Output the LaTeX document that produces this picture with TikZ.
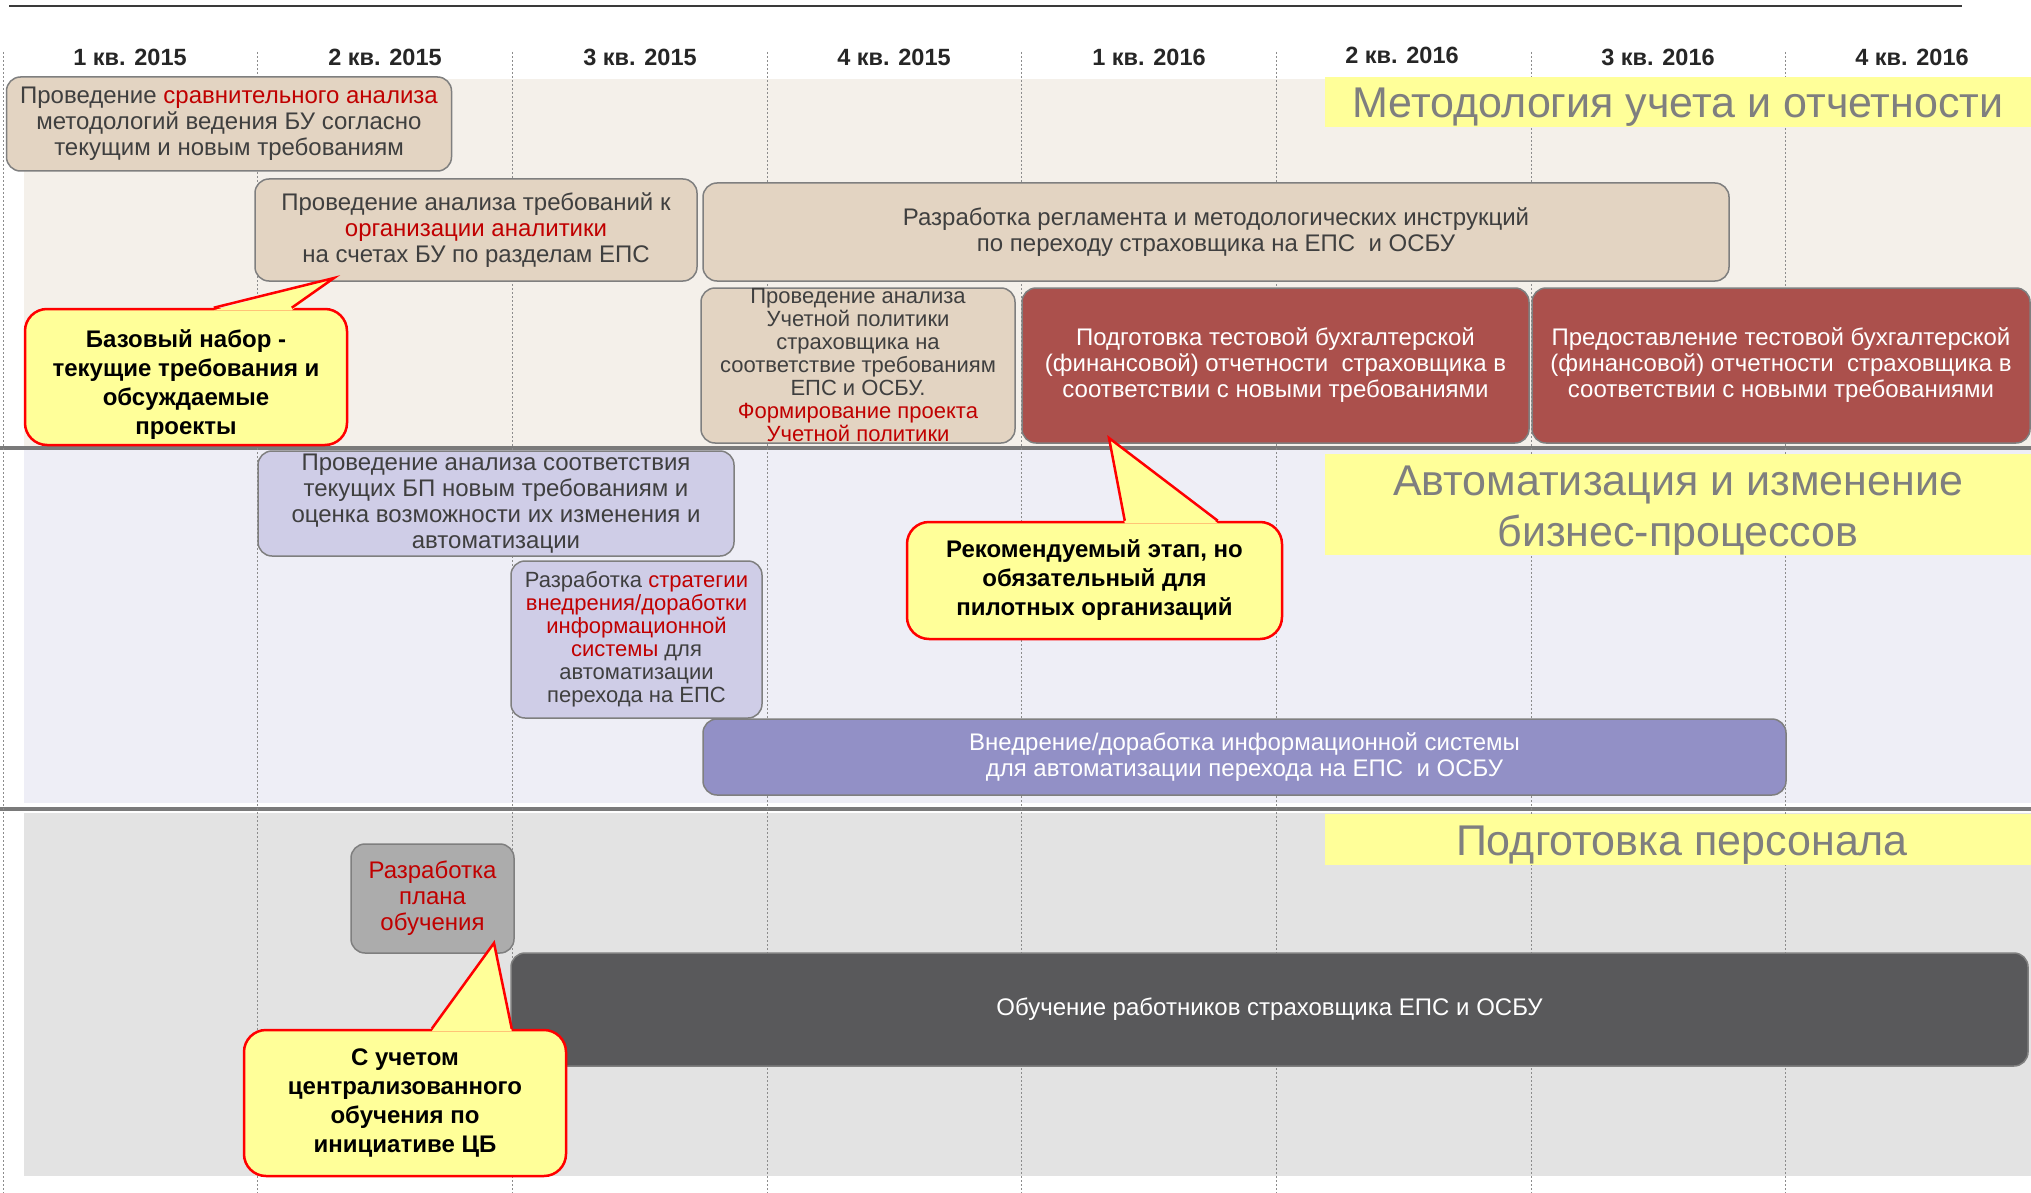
\documentclass[tikz,border=0pt]{standalone}
\usepackage{fontspec}
\setmainfont{Liberation Sans}
\usetikzlibrary{calc}
\definecolor{bgA}{HTML}{F4F0EA}
\definecolor{bgB}{HTML}{EEEEF6}
\definecolor{bgC}{HTML}{E3E3E3}
\definecolor{sepgray}{HTML}{7A7A7A}
\definecolor{gridgray}{HTML}{8C8C8C}
\definecolor{bordergray}{HTML}{7F7F7F}
\definecolor{txtgray}{HTML}{3F3F3F}
\definecolor{titlegray}{HTML}{7F7F7F}
\definecolor{qtext}{HTML}{262626}
\definecolor{cyellow}{HTML}{FFFF99}
\definecolor{dred}{HTML}{C00000}
\definecolor{beigebox}{HTML}{E3D4C2}
\definecolor{redbox}{HTML}{AB504C}
\definecolor{lavbox}{HTML}{CFCDE7}
\definecolor{purpbox}{HTML}{9290C6}
\definecolor{graybox}{HTML}{ACACAC}
\definecolor{darkbox}{HTML}{59595B}
\definecolor{topline}{HTML}{3A3A3A}
\newcommand{\rd}[1]{\textcolor{dred}{#1}}
\begin{document}
\begin{tikzpicture}[x=1pt,y=-1pt,
  task/.style={draw=bordergray, line width=1.5pt, rounded corners=14pt, align=center, inner sep=0pt, font=\fontsize{24}{26}\selectfont, text=txtgray},
  taskS/.style={task, font=\fontsize{22}{23}\selectfont},
  callout/.style={draw=red, line width=2.5pt, fill=cyellow, rounded corners=22pt, inner sep=0pt, align=center, font=\bfseries\fontsize{24}{29}\selectfont, text=black},
  ctext/.style={align=center, inner sep=0pt, font=\bfseries\fontsize{24}{29}\selectfont, text=black},
  ptr/.style={draw=red, line width=2.5pt, line join=miter},
  quarter/.style={font=\bfseries\fontsize{23.5}{28}\selectfont, text=qtext, inner sep=0pt},
  titletext/.style={inner sep=0pt, align=center, font=\fontsize{43}{51}\selectfont, text=titlegray},
  gridline/.style={draw=gridgray, line width=0.9pt, dash pattern=on 2pt off 2pt},
  sepline/.style={draw=sepgray, line width=4pt}
]
\useasboundingbox (0,0) rectangle (2031,1193);
\fill[white] (0,0) rectangle (2031,1193);
% section backgrounds
\fill[bgA] (24,79) rectangle (2031,446);
\fill[bgB] (24,450) rectangle (2031,803);
\fill[bgC] (24,813) rectangle (2031,1176);
\draw[sepline] (0,448) -- (2031,448);
\draw[sepline] (0,809) -- (2031,809);
% grid
\foreach \k in {0,...,7} {
  \draw[gridline] ({3+254.7*\k},52) -- ({3+254.7*\k},1193);
}
% top line
\draw[draw=topline, line width=2pt] (9,6) -- (1962,6);
% quarter labels
\node[quarter] (q1) at (130,57) {1 кв. 2015};
\node[quarter] (q2) at (385,57) {2 кв. 2015};
\node[quarter] (q3) at (640,57) {3 кв. 2015};
\node[quarter] (q4) at (894,57) {4 кв. 2015};
\node[quarter] (q5) at (1149,57) {1 кв. 2016};
\node[quarter] (q6) at (1402,55) {2 кв. 2016};
\node[quarter] (q7) at (1658,57) {3 кв. 2016};
\node[quarter] (q8) at (1912,57) {4 кв. 2016};
% titles
\fill[cyellow] (1325,77) rectangle (2031,127);
\node[titletext] (y1) at (1678,107) {Методология учета и отчетности};
\fill[cyellow] (1325,454) rectangle (2031,555);
\node[titletext] (y2) at (1678,511) {Автоматизация и изменение\\бизнес-процессов};
\fill[cyellow] (1325,814) rectangle (2031,865);
\node[titletext] (y3) at (1682,845) {Подготовка персонала};
% tasks
\node[task, fill=beigebox, minimum width=445pt, minimum height=94pt] (t1) at (229,124)
  {Проведение \rd{сравнительного анализа}\\методологий ведения БУ согласно\\текущим и новым требованиям};
\node[task, fill=beigebox, minimum width=442pt, minimum height=102pt] (t2) at (476,230)
  {Проведение анализа требований к\\\rd{организации аналитики}\\на счетах БУ по разделам ЕПС};
\node[task, fill=beigebox, minimum width=1026pt, minimum height=98pt] (t3) at (1216,232)
  {Разработка регламента и методологических инструкций\\по переходу страховщика на ЕПС\ \ и ОСБУ};
\node[taskS, fill=beigebox, minimum width=314pt, minimum height=155pt] (t4) at (858,365.5)
  {Проведение анализа\\Учетной политики\\страховщика на\\соответствие требованиям\\ЕПС и ОСБУ.\\\rd{Формирование проекта}\\\rd{Учетной политики}};
\node[task, fill=redbox, text=white, minimum width=507pt, minimum height=155pt] (t5) at (1275.5,365.5)
  {Подготовка тестовой бухгалтерской\\(финансовой) отчетности\ \ страховщика в\\соответствии с новыми требованиями};
\node[task, fill=redbox, text=white, minimum width=498pt, minimum height=155pt] (t6) at (1781,365.5)
  {Предоставление тестовой бухгалтерской\\(финансовой) отчетности\ \ страховщика в\\соответствии с новыми требованиями};
\node[task, fill=lavbox, minimum width=476pt, minimum height=105pt] (t7) at (496,503.5)
  {Проведение анализа соответствия\\текущих БП новым требованиям и\\оценка возможности их изменения и\\автоматизации};
\node[taskS, fill=lavbox, minimum width=251pt, minimum height=157pt] (t8) at (636.5,639.5)
  {Разработка \rd{стратегии}\\\rd{внедрения/доработки}\\\rd{информационной}\\\rd{системы} для\\автоматизации\\перехода на ЕПС};
\node[task, fill=purpbox, text=white, minimum width=1083pt, minimum height=76pt] (t9) at (1244.5,757)
  {Внедрение/доработка информационной системы\\для автоматизации перехода на ЕПС\ \ и ОСБУ};
\node[task, fill=graybox, text=dred, minimum width=163pt, minimum height=109pt] (t10) at (432.5,898.5)
  {Разработка\\плана\\обучения};
\node[task, fill=darkbox, text=white, minimum width=1517pt, minimum height=113pt] (t11) at (1269.5,1009.5)
  {Обучение работников страховщика ЕПС и ОСБУ};
% callout A
\node[callout, minimum width=322pt, minimum height=136pt] (cA) at (186,377) {};
\coordinate (cAtip) at (334,278);
\coordinate (cAb1) at ($(cA.north west)+(190,0)$);
\coordinate (cAb2) at ($(cA.north west)+(268,0)$);
\fill[cyellow] ($(cAb1)+(0,2.5)$) -- (cAtip) -- ($(cAb2)+(0,2.5)$) -- cycle;
\draw[ptr] (cAb1) -- (cAtip) -- (cAb2);
\node[ctext] (cAt) at (186,385) {Базовый набор -\\текущие требования и\\обсуждаемые\\проекты};
% callout B
\node[callout, minimum width=375pt, minimum height=117pt] (cB) at (1094.5,580.5)
  {Рекомендуемый этап, но\\обязательный для\\пилотных организаций};
\coordinate (cBtip) at (1109,438);
\coordinate (cBb1) at ($(cB.north west)+(219,0)$);
\coordinate (cBb2) at ($(cB.north west)+(312,0)$);
\fill[cyellow] ($(cBb1)+(0,2.5)$) -- (cBtip) -- ($(cBb2)+(0,2.5)$) -- cycle;
\draw[ptr] (cBb1) -- (cBtip) -- (cBb2);
% callout C
\node[callout, minimum width=322pt, minimum height=146pt] (cC) at (405,1103)
  {С учетом\\централизованного\\обучения по\\инициативе ЦБ};
\coordinate (cCtip) at (494,943);
\coordinate (cCb1) at ($(cC.north west)+(189,0)$);
\coordinate (cCb2) at ($(cC.north west)+(269,0)$);
\fill[cyellow] ($(cCb1)+(0,2.5)$) -- (cCtip) -- ($(cCb2)+(0,2.5)$) -- cycle;
\draw[ptr] (cCb1) -- (cCtip) -- (cCb2);
\end{tikzpicture}
\end{document}
